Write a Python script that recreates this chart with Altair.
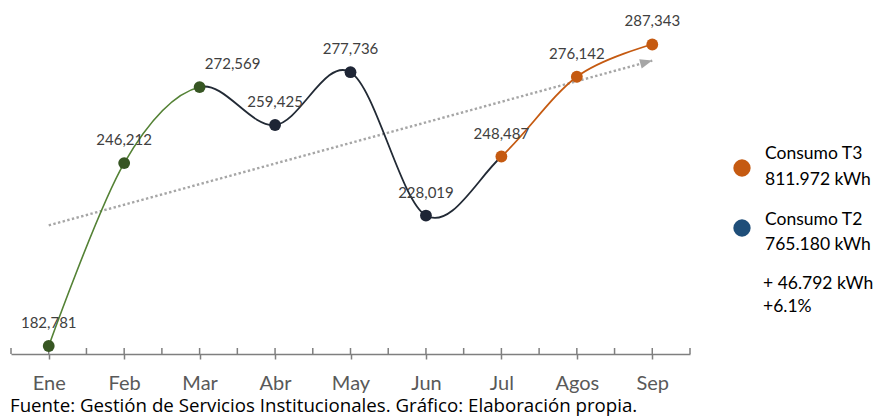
import altair as alt
import pandas as pd
import numpy as np

# ---------------- data ----------------
months = ["Ene", "Feb", "Mar", "Abr", "May", "Jun", "Jul", "Agos", "Sep"]
consumo = [182781, 246212, 272569, 259425, 277736, 228019, 248487, 276142, 287343]
tramo = ["T1", "T1", "T1", "T2", "T2", "T2", "T3", "T3", "T3"]

legend_t3 = ["Consumo  T3", "811.972 kWh"]
legend_t2 = ["Consumo  T2", "765.180  kWh"]
diff_lines = ["+ 46.792  kWh", "+6.1%"]
caption = "Fuente: Gestión de Servicios Institucionales. Gráfico: Elaboración propia."

# ---------------- layout ----------------
W, H = 679, 346
Y0, Y1 = 180000, 300000
FONT = "Lato"

df = pd.DataFrame({"mes": months, "i": list(range(len(months))), "v": consumo, "tramo": tramo})
ticks = pd.DataFrame({"t": np.arange(-0.5, len(months), 0.5)})

def px(i):
    return (i + 0.5) / len(months) * W

def py(v):
    return H - (v - Y0) / (Y1 - Y0) * H

P = np.array([[px(i), py(v)] for i, v in enumerate(consumo)])
n = len(P) - 1
k = 1.0 / 6.0

def get(j):
    if j < 0:
        return P[1]
    if j > n:
        return P[n - 1]
    return P[j]

seg_len = []
t = np.linspace(0, 1, 600)[:, None]
for j in range(n):
    p0, p3 = P[j], P[j + 1]
    c1 = p0 + k * (get(j + 1) - get(j - 1))
    c2 = p3 + k * (get(j) - get(j + 2))
    b = (1 - t) ** 3 * p0 + 3 * (1 - t) ** 2 * t * c1 + 3 * (1 - t) * t ** 2 * c2 + t ** 3 * p3
    seg_len.append(float(np.sum(np.linalg.norm(np.diff(b, axis=0), axis=1))))

Lg = round(sum(seg_len[0:2]), 2)
Ln = round(sum(seg_len[2:6]), 2)
BIG = 5000

xscale = alt.Scale(domain=[-0.5, len(months) - 0.5], nice=False, zero=False)
yscale = alt.Scale(domain=[Y0, Y1], nice=False, zero=False)
xaxis = alt.Axis(values=list(range(len(months))),
                 labelExpr="[" + ",".join("'%s'" % m for m in months) + "][datum.value]",
                 title=None, grid=False, domainColor="#7f7f7f", domainWidth=1.5,
                 tickColor="#7f7f7f", tickWidth=1.5, tickSize=5,
                 labelFont=FONT, labelFontSize=20, labelColor="#595959",
                 labelPadding=14)
xenc = alt.X("i:Q", scale=xscale, axis=xaxis)
yenc = alt.Y("v:Q", scale=yscale, axis=None)

base = alt.Chart(df)

def curve(color, dash, width):
    return base.mark_line(interpolate="cardinal", color=color, strokeWidth=width,
                          strokeDash=dash).encode(x=xenc, y=yenc)

green = curve("#548235", [Lg, BIG], 1.6)
navy = curve("#222a35", [0.01, Lg, Ln, BIG], 1.8)
orange = curve("#c55a11", [0.01, Lg + Ln, BIG, 1], 1.8)

trend = base.transform_regression("i", "v").mark_line(
    color="#a6a6a6", strokeWidth=2.4, strokeDash=[2.4, 2.4]).encode(x=xenc, y=yenc)
arrow = base.transform_regression("i", "v").transform_filter("datum.i > 7.5").mark_point(
    shape="M0,0L-2,-0.78L-2,0.78Z", size=150, filled=True, opacity=1, color="#a6a6a6",
    angle=345).encode(x=xenc, y=yenc)

tickrules = alt.Chart(ticks).mark_rule(color="#7f7f7f", strokeWidth=1.5).encode(
    x=alt.X("t:Q", scale=xscale, axis=xaxis), y=alt.value(H - 6), y2=alt.value(H))

points = base.mark_point(filled=True, size=140, opacity=1).encode(
    x=xenc, y=yenc,
    color=alt.Color("tramo:N", scale=alt.Scale(domain=["T1", "T2", "T3"],
                                               range=["#375623", "#1e2535", "#c55a11"]),
                    legend=None))

labels = base.transform_filter("datum.mes != 'Mar'").mark_text(
    font=FONT, fontSize=15, color="#404040", dy=-23).encode(
    x=xenc, y=yenc, text=alt.Text("v:Q", format=",d"))
label_mar = base.transform_filter("datum.mes == 'Mar'").mark_text(
    font=FONT, fontSize=15, color="#404040", dy=-23, dx=33).encode(
    x=xenc, y=yenc, text=alt.Text("v:Q", format=",d"))

one = base.transform_filter("datum.i == 0")

def legend_dot(color, y):
    return one.mark_point(filled=True, size=300, opacity=1, color=color).encode(
        x=alt.value(731), y=alt.value(y))

def text_line(s, x, y, size=17.5, font=FONT):
    return one.mark_text(font=font, fontSize=size, color="#000000", align="left",
                         baseline="alphabetic").encode(
        x=alt.value(x), y=alt.value(y), text=alt.value(s))

chart = alt.layer(
    tickrules, trend, arrow, green, navy, orange, points, labels, label_mar,
    legend_dot("#c55a11", 160), legend_dot("#1f4e79", 220),
    text_line(legend_t3[0], 754, 151), text_line(legend_t3[1], 754, 177),
    text_line(legend_t2[0], 754, 217), text_line(legend_t2[1], 754, 242),
    text_line(diff_lines[0], 752, 281), text_line(diff_lines[1], 752, 304),
    text_line(caption, -1, 404, 18.7, "Open Sans"),
).properties(
    width=W, height=H,
    padding={"left": 3, "top": 0, "right": 184, "bottom": 63},
    autosize=alt.AutoSizeParams(type="none"),
).configure_view(strokeWidth=0)

chart.save("out.html", embed_options={"renderer": "svg", "actions": False})
